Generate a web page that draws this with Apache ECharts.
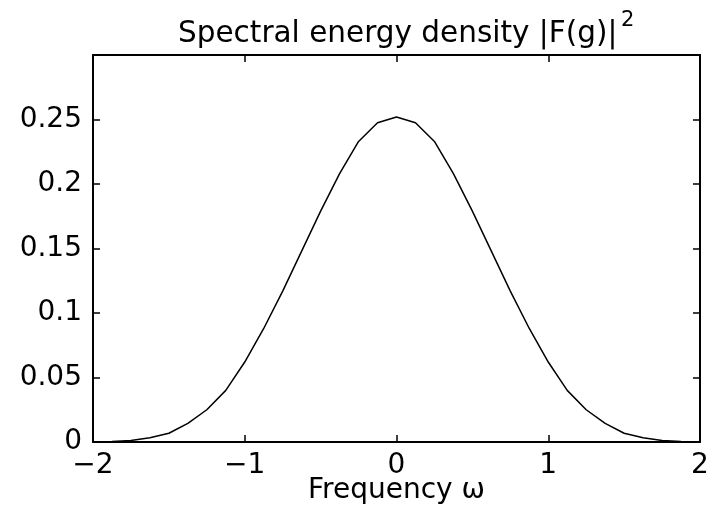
<!DOCTYPE html>
<html>
<head>
<meta charset="utf-8">
<script src="https://cdn.jsdelivr.net/npm/echarts@6/dist/echarts.min.js"></script>
<style>html,body{margin:0;padding:0;background:#fff}#c{width:709px;height:511px}</style>
</head>
<body>
<div id="c"></div>
<script>
// Frequency samples (omega) and spectral energy density values
const omega = [-2, -1.875, -1.75, -1.625, -1.5, -1.375, -1.25, -1.125, -1, -0.875, -0.75, -0.625, -0.5, -0.375, -0.25, -0.125,
  0, 0.125, 0.25, 0.375, 0.5, 0.625, 0.75, 0.875, 1, 1.125, 1.25, 1.375, 1.5, 1.625, 1.75, 1.875, 2];
const density = [0.0001, 0.0003, 0.0011, 0.0033, 0.0068, 0.0145, 0.025, 0.040, 0.062, 0.088, 0.117, 0.148, 0.179, 0.208, 0.233, 0.2475,
  0.252, 0.2475, 0.233, 0.208, 0.179, 0.148, 0.117, 0.088, 0.062, 0.040, 0.025, 0.0145, 0.0068, 0.0033, 0.0011, 0.0003, 0.0001];
const xTicks = ['\u22122', '\u22121', '0', '1', '2'];
const yTicks = ['0', '0.05', '0.1', '0.15', '0.2', '0.25'];
const titleMain = 'Spectral energy density |F(g)|';
const titleSup = '2';
const xName = 'Frequency \u03c9';

const FONT = '"DejaVu Sans", "Liberation Sans", Arial, sans-serif';
const FS = 28;
const chart = echarts.init(document.getElementById('c'), null, {renderer: 'canvas'});
const axisLine = {show: true, onZero: false, lineStyle: {color: '#000', width: 2}};
const tick = {show: true, inside: true, length: 7, lineStyle: {color: '#000', width: 1.5}};
chart.setOption({
  animation: false,
  backgroundColor: '#fff',
  title: [{
    text: titleMain, left: 178, top: 19, padding: 0,
    textStyle: {fontFamily: FONT, fontSize: 29.5, fontWeight: 'normal', color: '#000'}
  }, {
    text: titleSup, left: 621, top: 10, padding: 0,
    textStyle: {fontFamily: FONT, fontSize: 21, fontWeight: 'normal', color: '#000'}
  }],
  grid: {left: 93, right: 9, top: 55, bottom: 69, outerBoundsMode: 'none', containLabel: false},
  xAxis: [{
    type: 'value', min: -2, max: 2, interval: 1, position: 'bottom',
    axisLine: axisLine, axisTick: tick, splitLine: {show: false},
    axisLabel: {color: '#000', fontFamily: FONT, fontSize: FS, margin: 10,
      formatter: v => xTicks[Math.round(v + 2)]},
    name: xName, nameLocation: 'middle', nameGap: 35, nameMoveOverlap: false,
    nameTextStyle: {color: '#000', fontFamily: FONT, fontSize: FS}
  }, {
    type: 'value', min: -2, max: 2, interval: 1, position: 'top',
    axisLine: axisLine, axisTick: tick, splitLine: {show: false}, axisLabel: {show: false}
  }],
  yAxis: [{
    type: 'value', min: 0, max: 0.3, interval: 0.05, position: 'left',
    axisLine: axisLine, axisTick: tick, splitLine: {show: false},
    axisLabel: {color: '#000', fontFamily: FONT, fontSize: FS, margin: 11,
      formatter: v => { const i = Math.round(v / 0.05); return i < yTicks.length ? yTicks[i] : ''; }}
  }, {
    type: 'value', min: 0, max: 0.3, interval: 0.05, position: 'right',
    axisLine: axisLine, axisTick: tick, splitLine: {show: false}, axisLabel: {show: false}
  }],
  series: [{
    type: 'line', xAxisIndex: 0, yAxisIndex: 0,
    data: omega.map((w, i) => [w, density[i]]),
    showSymbol: false, smooth: false,
    lineStyle: {color: '#000', width: 1.5}
  }]
});
</script>
</body>
</html>
